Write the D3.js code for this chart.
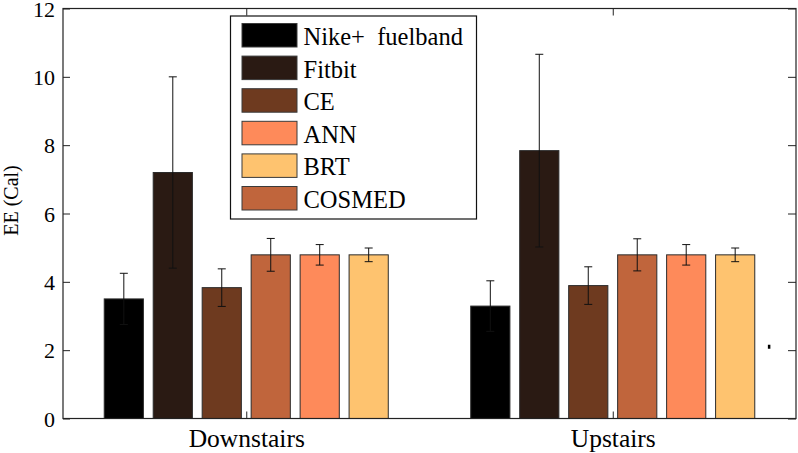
<!DOCTYPE html>
<html><head><meta charset="utf-8">
<script src="https://cdn.jsdelivr.net/npm/d3@7"></script>
</head><body style="margin:0"><svg id="c" width="798" height="453" font-family="Liberation Serif" style="display:block"></svg>
<script>
// ---- data ----
const categories = ["Downstairs", "Upstairs"];
const categoryPos = [1, 2];
const legendNames = ["Nike+  fuelband", "Fitbit", "CE", "ANN", "BRT", "COSMED"];
const legendColors = ["#000000", "#2a1a13", "#6e3a1f", "#fe8a5a", "#fec36f", "#c0653c"];
// bars as drawn, left to right within each group (colour index into legend)
const barColorIndex = [0, 1, 2, 5, 3, 4];
const downValues = [3.50, 7.20, 3.83, 4.79, 4.79, 4.79];
const downErrors = [0.75, 2.80, 0.55, 0.48, 0.30, 0.20];
const upValues   = [3.29, 7.84, 3.89, 4.79, 4.79, 4.79];
const upErrors   = [0.74, 2.82, 0.55, 0.47, 0.30, 0.20];
const yTicks = [0, 2, 4, 6, 8, 10, 12];
const yLabel = "EE (Cal)";
const strayDot = [2.426, 2.1];

const FONT = "Liberation Serif";
const svg = d3.select("#c");
const L = 63, R = 796, T = 8.5, B = 418.5;
const x = d3.scaleLinear().domain([0.5, 2.5]).range([L, R]);
const y = d3.scaleLinear().domain([0, 12]).range([B, T]);
const groupW = x(1.3875) - x(0.6125);
const xb = d3.scaleBand().domain(d3.range(6)).range([-groupW/2, groupW/2]).paddingInner(0.2);
const series = [downValues.map((v,i)=>({v, e:downErrors[i]})), upValues.map((v,i)=>({v, e:upErrors[i]}))];

// bars
series.forEach((vals, gi) => {
  const g = svg.append("g");
  const cx = x(categoryPos[gi]);
  vals.forEach((d, i) => {
    const x0 = cx + xb(i);
    g.append("rect").attr("x", x0).attr("y", y(d.v)).attr("width", xb.bandwidth()).attr("height", y(0) - y(d.v))
      .attr("fill", legendColors[barColorIndex[i]]).attr("stroke", "#2b2b2b").attr("stroke-width", 1);
  });
  vals.forEach((d, i) => {
    const mx = cx + xb(i) + xb.bandwidth()/2;
    const y1 = y(d.v + d.e), y2 = y(d.v - d.e);
    g.append("line").attr("x1", mx).attr("x2", mx).attr("y1", y1).attr("y2", y2).attr("stroke", "#111").attr("stroke-width", 1);
    [y1, y2].forEach(yy => g.append("line").attr("x1", mx-4).attr("x2", mx+4).attr("y1", yy).attr("y2", yy).attr("stroke", "#111").attr("stroke-width", 1));
  });
});

// stray dot
svg.append("rect").attr("x", x(strayDot[0]) - 1).attr("y", y(strayDot[1]) - 2).attr("width", 2.5).attr("height", 4).attr("fill", "#000");

// axes box
const axColor = "#222";
svg.append("rect").attr("x", L).attr("y", T).attr("width", R-L).attr("height", B-T).attr("fill", "none").attr("stroke", axColor).attr("stroke-width", 1.2);

// y ticks (left and right, inward)
const yAxL = svg.append("g").attr("transform", `translate(${L},0)`)
  .call(d3.axisLeft(y).tickValues(yTicks).tickSize(-7).tickPadding(8).tickFormat(d3.format("d")));
yAxL.attr("font-family", FONT).attr("font-size", 22);
yAxL.select(".domain").remove();
yAxL.selectAll("line").attr("stroke", axColor);
yAxL.selectAll(".tick text").attr("fill", "#000").attr("x", -8).attr("dy", "0.35em");
const yAxR = svg.append("g").attr("transform", `translate(${R},0)`)
  .call(d3.axisRight(y).tickValues(yTicks).tickSize(-8).tickFormat(""));
yAxR.select(".domain").remove();
yAxR.selectAll("line").attr("stroke", axColor);

// x ticks (bottom and top, inward)
const xAxB = svg.append("g").attr("transform", `translate(0,${B})`)
  .call(d3.axisBottom(x).tickValues(categoryPos).tickSize(-7).tickFormat((d,i)=>categories[i]));
xAxB.attr("font-family", FONT).attr("font-size", 25.5);
xAxB.select(".domain").remove();
xAxB.selectAll("line").attr("stroke", axColor);
xAxB.selectAll(".tick text").attr("fill", "#000").attr("y", 0).attr("dy", "1.1em");
const xAxT = svg.append("g").attr("transform", `translate(0,${T})`)
  .call(d3.axisTop(x).tickValues(categoryPos).tickSize(-7).tickFormat(""));
xAxT.select(".domain").remove();
xAxT.selectAll("line").attr("stroke", axColor);

// y label
svg.append("text").attr("transform", `translate(18,200.5) rotate(-90)`).attr("text-anchor", "middle")
  .attr("font-size", 20).attr("font-family", FONT).attr("fill", "#000").text(yLabel);

// legend
const lg = svg.append("g").attr("transform", "translate(230.5,16)");
lg.append("rect").attr("width", 246).attr("height", 203).attr("fill", "#fff").attr("stroke", "#111").attr("stroke-width", 1.2);
const rowStep = 32.6;
legendNames.forEach((n, i) => {
  const ry = 7.5 + i*rowStep;
  lg.append("rect").attr("x", 11.5).attr("y", ry).attr("width", 55).attr("height", 23.5)
    .attr("fill", legendColors[i]).attr("stroke", "#3a3a3a").attr("stroke-width", 1);
  lg.append("text").attr("x", 73).attr("y", ry + 21.5).attr("font-size", 24.5)
    .attr("font-family", FONT).attr("fill", "#000").attr("xml:space", "preserve").text(n);
});
</script></body></html>
